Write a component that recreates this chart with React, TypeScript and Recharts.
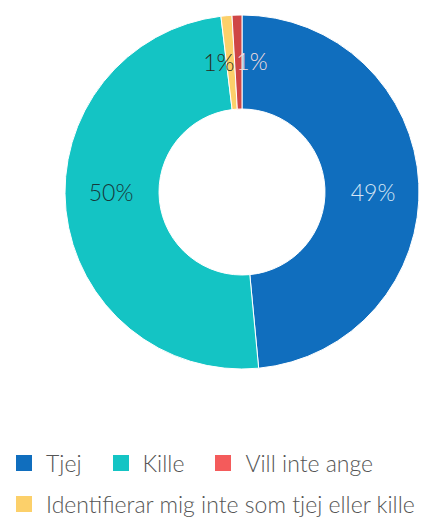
import React from 'react';
import { PieChart, Pie, Cell, Legend } from 'recharts';

const categories = ['Tjej', 'Kille', 'Identifierar mig inte som tjej eller kille', 'Vill inte ange'];
const values = [48.5, 49.6, 1.0, 0.9];
const sliceColors = ['#106EBE', '#14C4C4', '#FCD06A', '#CF4646'];
const labelColors = ['#d6e6f5', '#17393b', '#2a2a1a', '#f3dede'];

const legendOrder = ['Tjej', 'Kille', 'Vill inte ange', 'Identifierar mig inte som tjej eller kille'];
const legendColors = ['#106EBE', '#14C4C4', '#F45B5B', '#FCD06A'];

const data = categories.map((name, i) => ({ name, value: values[i] }));
const total = values.reduce((a, b) => a + b, 0);

const RADIAN = Math.PI / 180;

const renderLabel = (props: any) => {
  const { cx, cy, midAngle, innerRadius, outerRadius, index, value } = props;
  const r = (innerRadius + outerRadius) / 2 + 1;
  const cos = Math.cos(-midAngle * RADIAN);
  const sin = Math.sin(-midAngle * RADIAN);
  const pct = Math.round((value / total) * 100);
  const small = value / total < 0.02;
  let x: number;
  let y: number;
  let anchor: 'start' | 'middle' | 'end' = 'middle';
  if (small) {
    // thin slices at the top: push the labels apart sideways
    const isLast = index === data.length - 1;
    x = cx + r * cos + (isLast ? -2 : 4);
    y = cy + r * sin;
    anchor = isLast ? 'start' : 'end';
  } else {
    // big halves: label on the horizontal through the centre
    x = cx + r * Math.sign(cos);
    y = cy;
  }
  return (
    <text
      x={x}
      y={y}
      fill={labelColors[index]}
      textAnchor={anchor}
      dominantBaseline="central"
      fontSize={23}
      fontWeight={300}
      fontFamily="Lato, sans-serif"
    >
      {pct}%
    </text>
  );
};

const LegendContent = () => (
  <div
    style={{
      display: 'flex',
      flexWrap: 'wrap',
      fontFamily: 'Lato, sans-serif',
      fontWeight: 300,
      fontSize: 23,
      color: '#555',
      rowGap: 15,
      paddingLeft: 16,
    }}
  >
    {legendOrder.map((name, i) => (
      <div
        key={name}
        style={{ display: 'flex', alignItems: 'center', marginRight: 31, lineHeight: '26px', whiteSpace: 'nowrap' }}
      >
        <span
          style={{ width: 16, height: 16, background: legendColors[i], display: 'inline-block', marginRight: 14, flexShrink: 0 }}
        />
        <span>{name}</span>
      </div>
    ))}
  </div>
);

export default function App() {
  return (
    <div style={{ position: 'absolute', left: 0, top: 0, width: 421, height: 518, background: '#fff', overflow: 'hidden' }}>
      <PieChart width={421} height={518} margin={{ top: 0, right: 0, bottom: 0, left: 0 }}>
        <Pie
          data={data}
          dataKey="value"
          nameKey="name"
          cx={242}
          cy={192}
          outerRadius={177}
          innerRadius={83}
          startAngle={90}
          endAngle={-270}
          stroke="#fff"
          strokeWidth={1}
          label={renderLabel}
          labelLine={false}
          isAnimationActive={false}
        >
          {data.map((d, i) => (
            <Cell key={d.name} fill={sliceColors[i]} />
          ))}
        </Pie>
        <Legend
          content={<LegendContent />}
          wrapperStyle={{ position: 'absolute', left: 0, top: 450, width: 460 }}
        />
      </PieChart>
    </div>
  );
}
